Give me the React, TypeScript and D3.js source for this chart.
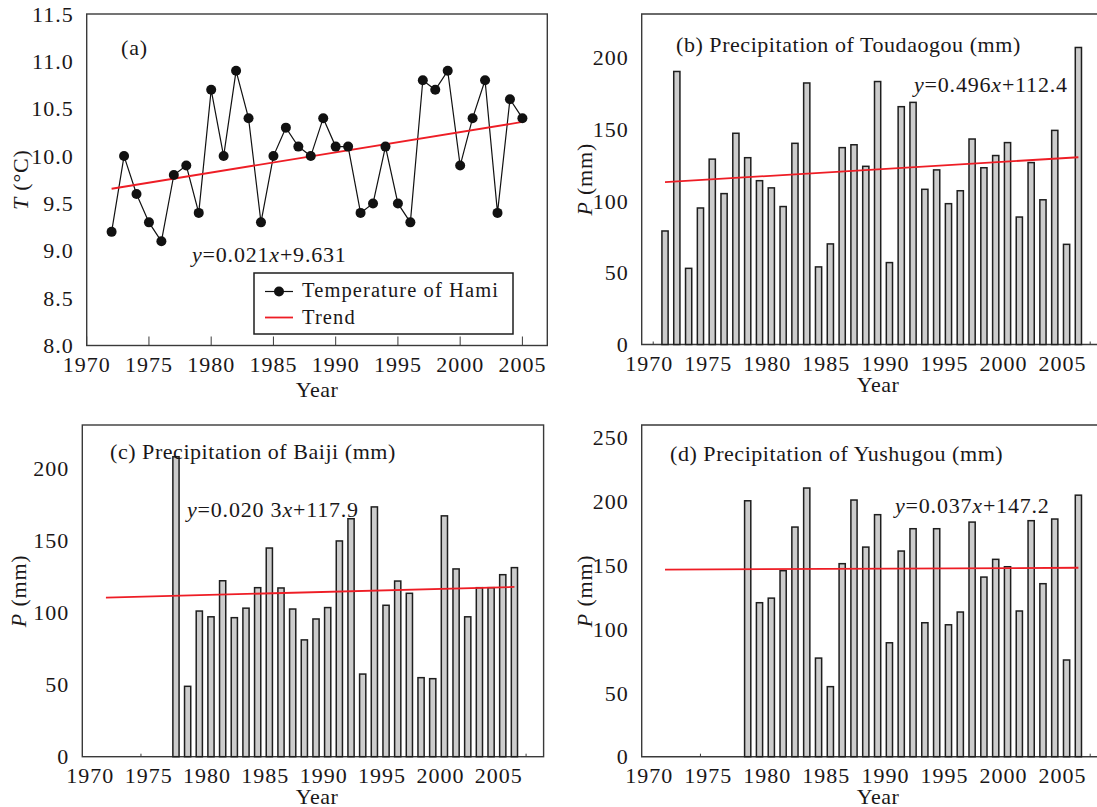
import React from 'react';
import * as d3 from 'd3';

// Panel (a): annual mean temperature of Hami
const tempYears = [1972, 1973, 1974, 1975, 1976, 1977, 1978, 1979, 1980, 1981, 1982, 1983, 1984, 1985, 1986, 1987, 1988,
  1989, 1990, 1991, 1992, 1993, 1994, 1995, 1996, 1997, 1998, 1999, 2000, 2001, 2002, 2003, 2004, 2005];
const tempValues = [9.2, 10.0, 9.6, 9.3, 9.1, 9.8, 9.9, 9.4, 10.7, 10.0, 10.9, 10.4, 9.3, 10.0, 10.3, 10.1, 10.0,
  10.4, 10.1, 10.1, 9.4, 9.5, 10.1, 9.5, 9.3, 10.8, 10.7, 10.9, 9.9, 10.4, 10.8, 9.4, 10.6, 10.4];
const tempTrend = [[1972, 9.655], [2005, 10.36]];

// Panel (b): Toudaogou precipitation, 1971-2006
const toudaogouStart = 1971;
const toudaogouValues = [79, 190, 53, 95, 129, 105, 147, 130, 114, 109, 96, 140, 182, 54, 70, 137, 139, 124, 183, 57,
  165.5, 168.5, 108, 121.5, 98, 107, 143, 123, 131.5, 140.5, 88.7, 126.6, 100.7, 149, 69.7, 206.7];
const toudaogouTrend = [[1971, 113], [2006, 130.3]];

// Panel (c): Baiji precipitation, 1977-2006
const baijiStart = 1977;
const baijiValues = [208, 48.8, 101, 97, 122, 96.4, 103, 117.2, 144.7, 117, 102.4, 81, 95.5, 103.4, 149.6, 165, 57.3,
  173.2, 105, 121.8, 113.3, 54.8, 54.1, 167, 130.2, 97, 117.2, 117.2, 126.2, 131.1];
const baijiTrend = [[1971, 110.3], [2006, 117.7]];

// Panel (d): Yushugou precipitation, 1978-2006
const yushugouStart = 1978;
const yushugouValues = [200.6, 120.7, 124.3, 145.8, 180, 210.6, 77.3, 54.9, 151.3, 201.2, 164.3, 189.7, 89.3, 161.2,
  178.7, 105, 178.7, 103.4, 113.4, 183.9, 140.8, 154.7, 148.9, 114.2, 185, 135.6, 186.3, 75.8, 205];
const yushugouTrend = [[1971, 146.6], [2006, 148.1]];

const yearTicks = [1970, 1975, 1980, 1985, 1990, 1995, 2000, 2005];
const tempTicks = [8.0, 8.5, 9.0, 9.5, 10.0, 10.5, 11.0, 11.5];
const precipTicks230 = [0, 50, 100, 150, 200];
const precipTicks260 = [0, 50, 100, 150, 200, 250];

const FONT = '"Liberation Serif", "Times New Roman", serif';
const INK = '#1a1718';
const FRAME = '#3a3a3a';
const RED = '#ee1d25';

type Box = { left: number; right: number; top: number; bottom: number };

function Equation({ x, y, a, b }: { x: number; y: number; a: string; b: string }) {
  return (
    <text x={x} y={y} fontSize={22} fill={INK} letterSpacing={0.8}>
      <tspan fontStyle="italic">y</tspan>={a}<tspan fontStyle="italic">x</tspan>+{b}
    </text>
  );
}

function XAxisLabels({ x, box, dx, cy, titleX }: { x: d3.ScaleLinear<number, number>; box: Box; dx: number; cy: number; titleX: number }) {
  return (
    <g fontSize={22} fill={INK}>
      {yearTicks.map(t => (
        <text key={t} x={x(t) + dx} y={box.bottom + 26} textAnchor="middle" letterSpacing={1}>{t}</text>
      ))}
      <text x={titleX} y={cy} textAnchor="middle" letterSpacing={0.5}>Year</text>
    </g>
  );
}

function YLabels({ y, box, ticks, fmt }: { y: d3.ScaleLinear<number, number>; box: Box; ticks: number[]; fmt: (v: number) => string }) {
  return (
    <g fontSize={22} fill={INK}>
      {ticks.map(t => (
        <text key={t} x={box.left - 13} y={y(t)} dy="0.35em" textAnchor="end" letterSpacing={1}>{fmt(t)}</text>
      ))}
    </g>
  );
}

function BarPanel({ box, xDomain, xRange, yMax, ticks, start, values, trend, title, titleX, titleY, eq, eqX, eqY,
  yTitleX, minorTicks, closed }: any) {
  const x = d3.scaleLinear().domain(xDomain).range(xRange);
  const y = d3.scaleLinear().domain([0, yMax]).range([box.bottom, box.top]);
  const bw = 6.2;
  const line = d3.line<number[]>().x(d => x(d[0])).y(d => y(d[1]));
  const cy = (box.top + box.bottom) / 2;
  return (
    <g>
      {closed ? (
        <rect x={box.left} y={box.top} width={box.right - box.left} height={box.bottom - box.top}
          fill="none" stroke={FRAME} strokeWidth={1.4} />
      ) : (
        <path d={`M${1100},${box.top}H${box.left}V${box.bottom}H${1100}`} fill="none" stroke={FRAME} strokeWidth={1.4} />
      )}
      {minorTicks.map((t: number) => (
        <line key={t} x1={x(t)} x2={x(t)} y1={box.bottom} y2={box.bottom - 3} stroke={FRAME} strokeWidth={1} />
      ))}
      {values.map((v: number, i: number) => (
        <rect key={i} x={x(start + i) - bw / 2} y={y(v)} width={bw} height={y(0) - y(v)}
          fill="#cccccc" stroke="#1e1e1e" strokeWidth={1.5} />
      ))}
      <path d={line(trend) || ''} fill="none" stroke={RED} strokeWidth={1.8} />
      <YLabels y={y} box={box} ticks={ticks} fmt={v => String(v)} />
      <XAxisLabels x={x} box={box} dx={-4} cy={box.bottom + 47} titleX={titleX} />
      <text x={title.x} y={titleY} fontSize={22} fill={INK} letterSpacing={0.55}>{title.text}</text>
      <Equation x={eqX} y={eqY} a={eq[0]} b={eq[1]} />
      <text transform={`translate(${yTitleX},${cy}) rotate(-90)`} textAnchor="middle" fontSize={22} fill={INK}
        letterSpacing={0.8}>
        <tspan fontStyle="italic">P</tspan> (mm)
      </text>
    </g>
  );
}

function TempPanel() {
  const box: Box = { left: 86.7, right: 547.3, top: 14, bottom: 345.5 };
  const x = d3.scaleLinear().domain([1970, 2007]).range([box.left, box.right]);
  const y = d3.scaleLinear().domain([8, 11.5]).range([box.bottom, box.top]);
  const pts = tempYears.map((yr, i) => [yr, tempValues[i]]);
  const line = d3.line<number[]>().x(d => x(d[0])).y(d => y(d[1]));
  return (
    <g>
      <rect x={box.left} y={box.top} width={box.right - box.left} height={box.bottom - box.top}
        fill="none" stroke={FRAME} strokeWidth={1.4} />
      {yearTicks.map(t => (
        <line key={t} x1={x(t)} x2={x(t)} y1={box.bottom} y2={box.bottom - 9} stroke={FRAME} strokeWidth={1} />
      ))}
      <path d={line(pts) || ''} fill="none" stroke="#111" strokeWidth={1.2} />
      <path d={line(tempTrend) || ''} fill="none" stroke={RED} strokeWidth={1.8} />
      {pts.map((d, i) => (
        <circle key={i} cx={x(d[0])} cy={y(d[1])} r={5} fill="#111" />
      ))}
      <YLabels y={y} box={box} ticks={tempTicks} fmt={v => v.toFixed(1)} />
      <XAxisLabels x={x} box={box} dx={0} cy={397} titleX={(box.left + box.right) / 2} />
      <text x={121} y={55} fontSize={22} fill={INK} letterSpacing={0.8}>(a)</text>
      <Equation x={192} y={262} a="0.021" b="9.631" />
      <text transform={`translate(28,${(box.top + box.bottom) / 2}) rotate(-90)`} textAnchor="middle" fontSize={22} fill={INK}
        letterSpacing={0.8}>
        <tspan fontStyle="italic">T</tspan> (°C)
      </text>
      <g>
        <rect x={254} y={273} width={259} height={61} fill="#fff" stroke="#1e1e1e" strokeWidth={1.5} />
        <line x1={265} x2={293} y1={291.5} y2={291.5} stroke="#111" strokeWidth={1.2} />
        <circle cx={279} cy={291.5} r={5} fill="#111" />
        <text x={302} y={297} fontSize={20.5} fill={INK} letterSpacing={1.1}>Temperature of Hami</text>
        <line x1={265} x2={293} y1={317.5} y2={317.5} stroke={RED} strokeWidth={1.8} />
        <text x={302} y={324} fontSize={20.5} fill={INK} letterSpacing={1.1}>Trend</text>
      </g>
    </g>
  );
}

export default function App() {
  return (
    <svg width={1097} height={807} style={{ position: 'absolute', left: 0, top: 0, background: '#fff' }}
      fontFamily={FONT}>
      <TempPanel />
      <BarPanel box={{ left: 641.7, right: 1100, top: 14, bottom: 344.5 }} xDomain={[1969, 2007]} xRange={[641.4, 1090.2]}
        yMax={230} ticks={precipTicks230} start={toudaogouStart} values={toudaogouValues} trend={toudaogouTrend}
        title={{ x: 676, text: '(b) Precipitation of Toudaogou (mm)' }} titleX={878} titleY={52}
        eq={['0.496', '112.4']} eqX={914} eqY={92} yTitleX={592} minorTicks={[1970, 2007]} closed={false} />
      <BarPanel box={{ left: 82.3, right: 543.6, top: 425, bottom: 756.7 }} xDomain={[1969, 2008.5]} xRange={[82.6, 543.6]}
        yMax={230} ticks={precipTicks230} start={baijiStart} values={baijiValues} trend={baijiTrend}
        title={{ x: 110, text: '(c) Precipitation of Baiji (mm)' }} titleX={317} titleY={459}
        eq={['0.020 3', '117.9']} eqX={187} eqY={517} yTitleX={26} minorTicks={[1974, 2007]} closed={true} />
      <BarPanel box={{ left: 641.7, right: 1100, top: 425, bottom: 756.7 }} xDomain={[1969, 2007]} xRange={[641.4, 1090.2]}
        yMax={260} ticks={precipTicks260} start={yushugouStart} values={yushugouValues} trend={yushugouTrend}
        title={{ x: 670, text: '(d) Precipitation of Yushugou (mm)' }} titleX={878} titleY={461}
        eq={['0.037', '147.2']} eqX={895} eqY={513} yTitleX={592} minorTicks={[1974, 2007]} closed={false} />
    </svg>
  );
}
